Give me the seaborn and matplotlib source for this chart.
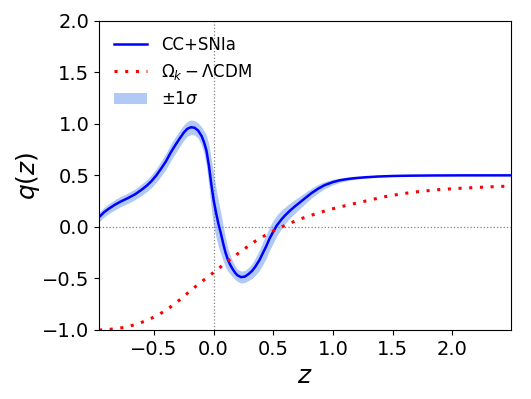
"""
Deceleration parameter q(z): CC+SNIa reconstruction vs Omega_k-LCDM
"""

import numpy as np
import pandas as pd
import matplotlib
matplotlib.use("Agg")
import matplotlib.pyplot as plt
import seaborn as sns

# reconstructed q(z) from CC+SNIa
z_rec = [-0.96, -0.92, -0.88, -0.83, -0.78, -0.72, -0.66, -0.61, -0.56, -0.52,
         -0.48, -0.44, -0.40, -0.36, -0.32, -0.28, -0.25, -0.22, -0.19, -0.16,
         -0.13, -0.10, -0.08, -0.06, -0.04, -0.02, 0.00, 0.02, 0.04, 0.06,
         0.08, 0.10, 0.12, 0.14, 0.16, 0.18, 0.20, 0.23, 0.26, 0.29,
         0.32, 0.35, 0.385, 0.41, 0.44, 0.47, 0.50, 0.53, 0.57, 0.60,
         0.64, 0.68, 0.72, 0.77, 0.82, 0.875, 0.93, 1.00, 1.06, 1.13,
         1.20, 1.28, 1.38, 1.50, 1.65, 1.85, 2.10, 2.49]
q_rec = [0.094, 0.14, 0.175, 0.213, 0.245, 0.278, 0.315, 0.355, 0.40, 0.445,
         0.50, 0.565, 0.635, 0.72, 0.795, 0.865, 0.915, 0.952, 0.967, 0.962,
         0.935, 0.88, 0.82, 0.74, 0.60, 0.42, 0.26, 0.14, 0.03, -0.06,
         -0.16, -0.25, -0.32, -0.37, -0.41, -0.445, -0.47, -0.487, -0.483, -0.46,
         -0.43, -0.385, -0.32, -0.26, -0.19, -0.11, -0.045, 0.015, 0.075, 0.113,
         0.158, 0.198, 0.235, 0.282, 0.328, 0.37, 0.405, 0.435, 0.453, 0.466,
         0.475, 0.482, 0.489, 0.494, 0.497, 0.499, 0.50, 0.50]
q_err = [0.045, 0.047, 0.048, 0.050, 0.050, 0.050, 0.052, 0.055, 0.058, 0.062,
         0.067, 0.072, 0.078, 0.080, 0.080, 0.078, 0.075, 0.072, 0.070, 0.070,
         0.075, 0.090, 0.110, 0.150, 0.200, 0.240, 0.250, 0.240, 0.220, 0.200,
         0.170, 0.140, 0.110, 0.090, 0.075, 0.065, 0.060, 0.058, 0.058, 0.062,
         0.070, 0.085, 0.100, 0.110, 0.115, 0.115, 0.110, 0.100, 0.090, 0.080,
         0.072, 0.066, 0.060, 0.054, 0.048, 0.042, 0.035, 0.027, 0.020, 0.015,
         0.011, 0.008, 0.005, 0.003, 0.002, 0.001, 0.001, 0.001]

# Omega_k - LCDM prediction
z_lcdm = [-0.96, -0.93, -0.84, -0.74, -0.64, -0.55, -0.46, -0.37, -0.29, -0.21,
          -0.13, -0.05, 0.03, 0.12, 0.22, 0.34, 0.42, 0.50, 0.57, 0.64,
          0.72, 0.85, 0.97, 1.10, 1.27, 1.42, 1.57, 1.72, 1.88, 2.04,
          2.19, 2.34, 2.49]
q_lcdm = [-1.0, -1.0, -0.99, -0.974, -0.942, -0.903, -0.852, -0.784, -0.713, -0.635,
          -0.558, -0.487, -0.415, -0.33, -0.245, -0.145, -0.09, -0.04, 0.0, 0.036,
          0.075, 0.125, 0.168, 0.205, 0.25, 0.29, 0.32, 0.343, 0.361, 0.373,
          0.382, 0.39, 0.396]

rec = pd.DataFrame({"z": z_rec, "q": q_rec, "err": q_err})
lcdm = pd.DataFrame({"z": z_lcdm, "q": q_lcdm})

fig, ax = plt.subplots(figsize=(5.31, 3.99), dpi=100)
fig.subplots_adjust(left=0.1865, right=0.962, top=0.948, bottom=0.173)

# reference lines
ax.axhline(0, color="gray", lw=0.9, ls=":", zorder=0)
ax.axvline(0, color="gray", lw=0.9, ls=":", zorder=0)

ax.fill_between(rec["z"], rec["q"] - rec["err"], rec["q"] + rec["err"],
                color="cornflowerblue", alpha=0.5, lw=0, label=r"$\pm1\sigma$")
sns.lineplot(data=rec, x="z", y="q", ax=ax, color="blue", lw=1.8,
             label="CC+SNIa", sort=False)
sns.lineplot(data=lcdm, x="z", y="q", ax=ax, color="red", lw=2.2,
             linestyle=(0, (1, 2.5)), label=r"$\Omega_k-\Lambda$CDM", sort=False)

ax.set_xlim(-0.96, 2.49)
ax.set_ylim(-1.0, 2.0)
ax.set_xticks([-0.5, 0.0, 0.5, 1.0, 1.5, 2.0])
ax.set_yticks([-1.0, -0.5, 0.0, 0.5, 1.0, 1.5, 2.0])
ax.tick_params(labelsize=14)
ax.set_xlabel(r"$z$", fontsize=18)
ax.set_ylabel(r"$q(z)$", fontsize=18, labelpad=0)

handles, labels = ax.get_legend_handles_labels()
order = [labels.index("CC+SNIa"), labels.index(r"$\Omega_k-\Lambda$CDM"),
         labels.index(r"$\pm1\sigma$")]
ax.legend([handles[i] for i in order], [labels[i] for i in order],
          loc="upper left", frameon=False, fontsize=12)

plt.savefig("out.png", dpi=100)
plt.close()
